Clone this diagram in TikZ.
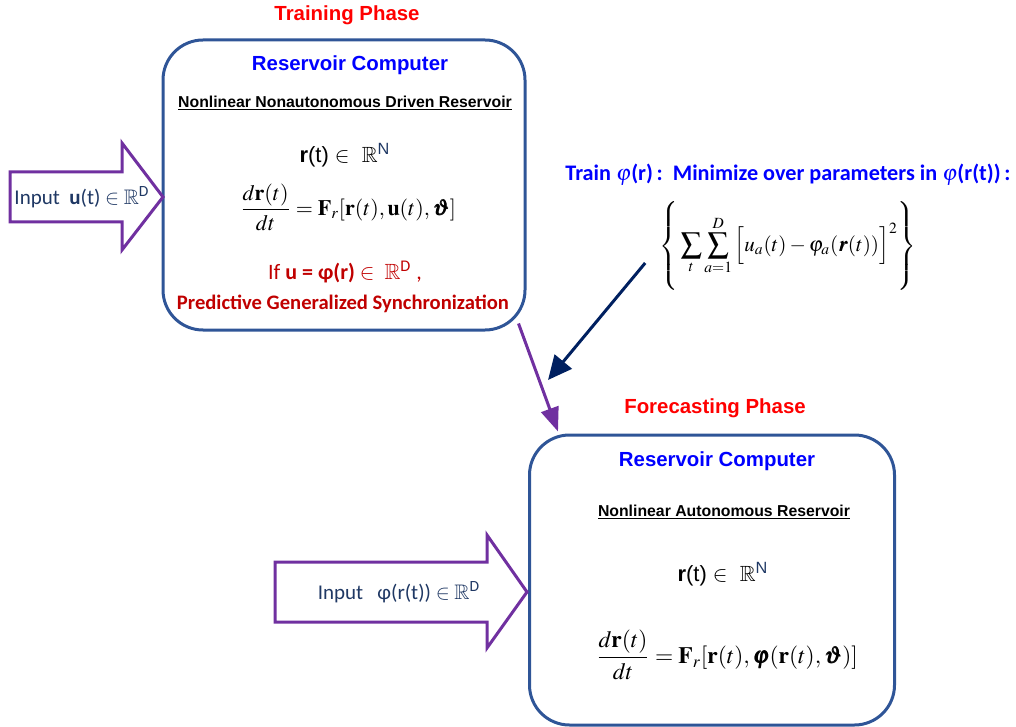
\documentclass[tikz,border=0pt]{standalone}
\usepackage{mathptmx}
\usepackage{amssymb}
\usepackage{bm}
\usepackage[no-math]{fontspec}
\setmainfont{Liberation Sans}
\newfontfamily\calibri{Carlito}
\usetikzlibrary{arrows.meta,calc}

\definecolor{boxblue}{RGB}{47,85,151}
\definecolor{arrowpurple}{RGB}{112,48,160}
\definecolor{navy}{RGB}{0,32,96}
\definecolor{titlered}{RGB}{255,0,0}
\definecolor{rcblue}{RGB}{0,0,255}
\definecolor{darkred}{RGB}{192,0,0}
\definecolor{inputblue}{RGB}{31,56,100}

\begin{document}
\begin{tikzpicture}[
x=0.5pt,y=-0.5pt,
phasebox/.style={
rectangle,
rounded corners=20pt,
draw=boxblue,
line width=1.5pt,
inner sep=0pt
},
phasetitle/.style={
font=\fontsize{10.2}{12}\selectfont\bfseries,
text=titlered
},
rctitle/.style={
font=\fontsize{10.2}{12}\selectfont\bfseries,
text=rcblue
},
subtitle/.style={
font=\fontsize{7.9}{9}\selectfont\bfseries
},
statetext/.style={
font=\fontsize{11}{13}\selectfont
},
eqtext/.style={
font=\fontsize{11}{13}\selectfont,
inner sep=1pt
},
blockarrow/.style={
draw=arrowpurple,
line width=1.5pt,
fill=white,
line join=miter
},
inputtext/.style={
font=\calibri\fontsize{10.5}{12}\selectfont,
text=inputblue
}
]
\useasboundingbox (0,0) rectangle (1016,727);

% Training phase
\node[phasetitle] (traintitle) at (347,15) {Training Phase};
\node[phasebox, minimum width=181pt, minimum height=145pt] (train) at (344,185) {};
\node[rctitle] (trainrc) at (350,65) {Reservoir Computer};
\node[subtitle] (trainsub) at (345,103)
{\underline{Nonlinear Nonautonomous Driven Reservoir}};
\node[statetext] (trainstate) at (345,155)
{\textbf{r}(t) $\in$\ \ $\mathbb{R}$\textsuperscript{\textcolor{inputblue}{N}}};
\node[eqtext] (traineq) at (348,207)
{$\displaystyle \frac{d\mathbf{r}(t)}{dt}=\mathbf{F}_{r}[\mathbf{r}(t),\mathbf{u}(t),\bm{\vartheta}]$};
\node[font=\calibri\fontsize{11}{13}\selectfont, text=darkred] (gsif) at (345,272)
{If \textbf{u = φ(r)} $\in$\ \ $\mathbb{R}$\textsuperscript{D} ,};
\node[font=\calibri\fontsize{10.3}{12}\selectfont\bfseries, text=darkred] (gsname) at (343,304)
{Predictive Generalized Synchronization};

% Input arrow of the driven reservoir
\draw[blockarrow] (10,172) -- (122,172) -- (122,143) -- (163,197)
-- (122,250) -- (122,222) -- (10,222) -- cycle;
\node[inputtext] (drive) at (82,197)
{Input \ \textbf{u}(t) $\in\mathbb{R}$\textsuperscript{D}};

% Training of the readout
\node[font=\calibri\fontsize{11.1}{13}\selectfont\bfseries, text=rcblue] (traintext) at (788,175)
{Train $\varphi$(r)\,:\ \ Minimize over parameters in $\varphi$(r(t))\,:};
\node[eqtext, font=\fontsize{10.5}{12}\selectfont] (cost) at (788,246)
{$\displaystyle \left\{\rule[-19pt]{0pt}{41pt}\sum_{t}\sum_{a=1}^{D}\Big[u_{a}(t)-\varphi_{a}(\bm{r}(t))\Big]^{2}\right\}$};

% Forecasting phase
\node[phasetitle] (foretitle) at (715,408) {Forecasting Phase};
\node[phasebox, minimum width=182.5pt, minimum height=145pt] (fore) at (712,580) {};
\node[rctitle] (forerc) at (717,461) {Reservoir Computer};
\node[subtitle] (foresub) at (724,512)
{\underline{Nonlinear Autonomous Reservoir}};
\node[statetext] (forestate) at (723,574)
{\textbf{r}(t) $\in$\ \ $\mathbb{R}$\textsuperscript{\textcolor{inputblue}{N}}};
\node[eqtext, font=\fontsize{11.7}{14}\selectfont] (foreeq) at (727,655)
{$\displaystyle \frac{d\mathbf{r}(t)}{dt}=\mathbf{F}_{r}[\mathbf{r}(t),\bm{\varphi}(\mathbf{r}(t),\bm{\vartheta})]$};

% Input arrow of the autonomous reservoir
\draw[blockarrow] (275,562) -- (487,562) -- (487,535) -- (527,592)
-- (487,648) -- (487,622) -- (275,622) -- cycle;
\node[inputtext] (feedback) at (399,592)
{Input \ \ φ(r(t)) $\in\mathbb{R}$\textsuperscript{D}};

% Connectors
\coordinate (target) at (548,380);
\draw[navy, line width=1.5pt, -{Triangle[length=12pt,width=11pt]}]
($(cost.west)+(-12,17)$) -- (target);
\draw[arrowpurple, line width=1.5pt, -{Triangle[length=12pt,width=9pt]}]
($(train.south east)+(-8,-8)$) -- ($(fore.north west)+(30,-2)$);

\end{tikzpicture}
\end{document}
